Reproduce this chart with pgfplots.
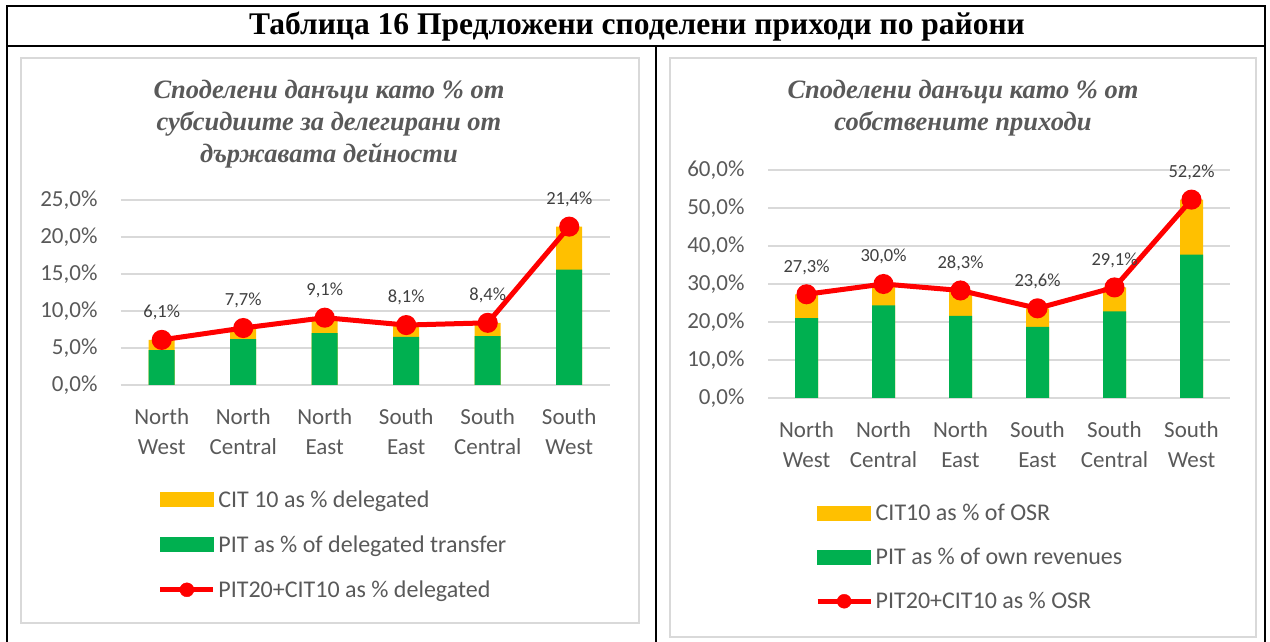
\documentclass[border=0pt]{standalone}
\usepackage{pgfplots}
\pgfplotsset{compat=1.18}
\usepackage{pgfplotstable}
\usepackage{fontspec}
\setmainfont{Carlito}
\newfontfamily\tnr{Liberation Serif}
\definecolor{citY}{HTML}{FFC000}
\definecolor{pitG}{HTML}{00B050}
\definecolor{gridG}{HTML}{D9D9D9}
\definecolor{txtG}{HTML}{595959}
\definecolor{lblG}{HTML}{404040}

\pgfplotstableread{
x pit total
0 4.7 6.1
1 6.2 7.7
2 7.0 9.1
3 6.5 8.1
4 6.6 8.4
5 15.6 21.4
}\leftdata

\pgfplotstableread{
x pit total
0 21.0 27.3
1 24.4 30.0
2 21.6 28.3
3 18.7 23.6
4 22.8 29.1
5 37.7 52.2
}\rightdata

\pgfplotsset{
 sharestyle/.style={
  scale only axis, anchor=south west, xmin=-0.5, xmax=5.5, ymin=0,
  axis line style={draw=none}, major tick length=0pt,
  ymajorgrids, grid style={gridG, line width=1.5pt},
  xtick={0,...,5},
  xticklabels={{North\\West},{North\\Central},{North\\East},{South\\East},{South\\Central},{South\\West}},
  x tick label style={align=center, font=\fontsize{23}{30}\selectfont, text=txtG, yshift=-20pt},
  y tick label style={font=\fontsize{23}{23}\selectfont, text=txtG, xshift=-20pt},
  /pgf/number format/assume math mode=true,
  yticklabel={\pgfmathprintnumber[fixed,fixed zerofill,precision=1,use comma]{\tick}\%},
  clip=false,
  legend cell align=left,
  legend style={draw=none, fill=none, font=\fontsize{24}{24}\selectfont, text=txtG, anchor=north west, row sep=22pt, inner sep=0pt, nodes={inner sep=2.5pt}},
 },
 linestyle/.style={red, line width=5pt, mark=*, mark size=7.5pt, mark options={fill=red, draw=none},
  nodes near coords={\pgfmathprintnumber[fixed,fixed zerofill,precision=1,use comma]{\pgfplotspointmeta}\%},
  nodes near coords style={font=\fontsize{18.5}{18.5}\selectfont, text=lblG, anchor=south, yshift=14pt}},
}

\begin{document}
\begin{tikzpicture}[x=1pt,y=1pt]
\path[use as bounding box] (0,0) rectangle (1270,642);
% panels
\draw[gridG, line width=1.5pt] (21,19) rectangle (639,584);
\draw[gridG, line width=1.5pt] (670,5) rectangle (1256,584);
% table frame
\draw[black, line width=2.5pt] (7,-5) -- (7,636) -- (1265,636) -- (1265,-5);
\draw[black, line width=2.5pt] (7,596) -- (1265,596);
\draw[black, line width=2.5pt] (656,596) -- (656,-5);
% title
\node[font=\tnr\bfseries\fontsize{31.5}{31.5}\selectfont] at (637,615) {Таблица 16 Предложени споделени приходи по райони};
% chart titles
\node[font=\tnr\bfseries\itshape\fontsize{26.5}{32}\selectfont, text=txtG, align=center] at (329,518) {Споделени данъци като \% от\\субсидиите за делегирани от\\държавата дейности};
\node[font=\tnr\bfseries\itshape\fontsize{26.5}{32}\selectfont, text=txtG, align=center] at (963,534) {Споделени данъци като \% от\\собствените приходи};

\begin{axis}[sharestyle, at={(121pt,257pt)}, width=489pt, height=185pt, ymax=25, ytick={0,5,...,25},
  legend style={at={(axis description cs:0.075,-0.555)}}]
\addlegendimage{legend image code/.code={\fill[citY] (0pt,-7pt) rectangle (53pt,7pt);}}
\addlegendimage{legend image code/.code={\fill[pitG] (0pt,-7pt) rectangle (53pt,7pt);}}
\addlegendimage{legend image code/.code={\draw[red,line width=5pt] (0pt,0pt)--(53pt,0pt); \fill[red] (26.5pt,0pt) circle (7pt);}}
\addplot[ybar, bar width=26pt, bar shift=0pt, fill=citY, draw=none] table[x=x,y=total] {\leftdata};
\addplot[ybar, bar width=26pt, bar shift=0pt, fill=pitG, draw=none] table[x=x,y=pit] {\leftdata};
\addplot[linestyle] table[x=x,y=total] {\leftdata};
\legend{CIT 10 as \% delegated, PIT as \% of delegated transfer, PIT20+CIT10 as \% delegated}
\end{axis}

\begin{axis}[sharestyle, at={(768pt,244pt)}, width=462pt, height=228pt, ymax=60, ytick={0,10,...,60},
  legend style={at={(axis description cs:0.1017,-0.455)}, row sep=21pt}]
\addlegendimage{legend image code/.code={\fill[citY] (0pt,-7pt) rectangle (53pt,7pt);}}
\addlegendimage{legend image code/.code={\fill[pitG] (0pt,-7pt) rectangle (53pt,7pt);}}
\addlegendimage{legend image code/.code={\draw[red,line width=5pt] (0pt,0pt)--(53pt,0pt); \fill[red] (26.5pt,0pt) circle (7pt);}}
\addplot[ybar, bar width=23pt, bar shift=0pt, fill=citY, draw=none] table[x=x,y=total] {\rightdata};
\addplot[ybar, bar width=23pt, bar shift=0pt, fill=pitG, draw=none] table[x=x,y=pit] {\rightdata};
\addplot[linestyle] table[x=x,y=total] {\rightdata};
\legend{CIT10 as \% of OSR, PIT as \% of own revenues, PIT20+CIT10 as \% OSR}
\end{axis}
\end{tikzpicture}
\end{document}
